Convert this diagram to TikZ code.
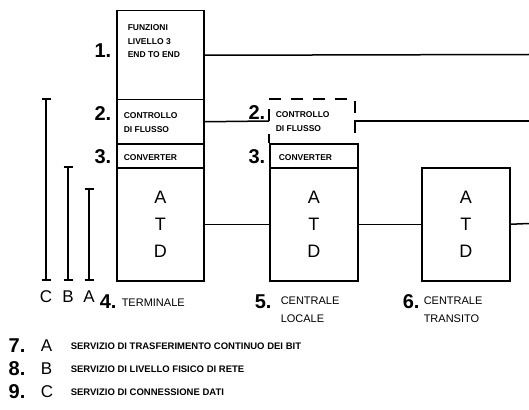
\documentclass[tikz,border=0pt]{standalone}
\usepackage{fontspec}
\setmainfont{Liberation Sans}
\begin{document}
\begin{tikzpicture}[x=1pt,y=-1pt,line width=1.5pt,
  box/.style={draw,inner sep=0pt,anchor=north west},
  big/.style={font=\bfseries\fontsize{20}{20}\selectfont,inner sep=0pt},
  mid/.style={font=\fontsize{17}{17}\selectfont,inner sep=0pt},
  atd/.style={font=\fontsize{18}{27}\selectfont,align=center,inner sep=0pt},
  small/.style={font=\bfseries\fontsize{8.5}{13.5}\selectfont,align=left,inner sep=0pt,anchor=north west},
  lab/.style={font=\fontsize{11}{18}\selectfont,align=left,inner sep=0pt,anchor=north west},
  legend/.style={font=\bfseries\fontsize{9.5}{9.5}\selectfont,inner sep=0pt,anchor=west},
  dashbox/.style={dash pattern=on 12pt off 10pt}]
\useasboundingbox (0,0) rectangle (529,409);
% terminal
\node[box,minimum width=87,minimum height=89] (t1) at (116,10) {};
\node[box,minimum width=87,minimum height=44] (t2) at (116,99) {};
\node[box,minimum width=87,minimum height=24] (t3) at (116,143) {};
\node[box,minimum width=87,minimum height=113] (t4) at (116,167) {};
\node[small] (t1txt) at (127,24) {FUNZIONI\\LIVELLO 3\\END TO END};
\node[small] (t2txt) at (123,112) {CONTROLLO\\DI FLUSSO};
\node[small] (t3txt) at (123,154) {CONVERTER};
\node[atd] (t4txt) at (t4.center) {A\\T\\D};
% centrale locale
\node[box,minimum width=88,minimum height=24] (l3) at (269,143) {};
\node[box,minimum width=88,minimum height=113] (l4) at (269,167) {};
\node[small] (l2txt) at (275,111) {CONTROLLO\\DI FLUSSO};
\node[small] (l3txt) at (278,154) {CONVERTER};
\node[atd] (l4txt) at (l4.center) {A\\T\\D};
% centrale transito
\node[box,minimum width=88,minimum height=113] (r4) at (421,167) {};
\node[atd] (r4txt) at (r4.center) {A\\T\\D};
% dashed box
\coordinate (d0) at (269,134);
\coordinate (d1) at (269,121);
\coordinate (d2) at (269,99);
\coordinate (d3) at (355,99);
\coordinate (d4) at (355,133);
\coordinate (d5) at (355,121);
\draw[dashbox] (d1) -- (d2) -- (d3) -- (d4);
\draw (d0) -- (l3.north west);
% connectors
\coordinate (e1) at (529,54.5);
\coordinate (e2) at (529,121);
\coordinate (e4) at (529,223.5);
\draw (t1.east) -- (e1);
\draw (t2.east) -- (d1);
\draw (d4) -- (d5) -- (e2);
\draw (t4.east) -- (l4.west);
\draw (l4.east) -- (r4.west);
\draw (r4.east) -- (e4);
% level numbers
\node[big,anchor=east] (n1) at (112,51) {1.};
\node[big,anchor=east] (n2) at (112,114) {2.};
\node[big,anchor=east] (n3) at (112,157) {3.};
\node[big,anchor=east] (m2) at (266,113) {2.};
\node[big,anchor=east] (m3) at (266,157) {3.};
% brackets
\coordinate (cT) at (46,99);  \coordinate (cB) at (46,280);
\coordinate (bT) at (68,167); \coordinate (bB) at (68,280);
\coordinate (aT) at (89,189); \coordinate (aB) at (89,280);
\foreach \p/\q in {cT/cB,bT/bB,aT/aB}{
  \draw (\p) -- (\q);
  \draw (\p) ++(-4.5,0) -- ++(9,0);
  \draw (\q) ++(-4.5,0) -- ++(9,0);
}
\node[mid] (lc) at (46,297) {C};
\node[mid] (lb) at (68,297) {B};
\node[mid] (la) at (89,297) {A};
% station labels
\node[big,anchor=west] (n4) at (99,302) {4.};
\node[lab] (n4t) at (121,298) {TERMINALE};
\node[big,anchor=west] (n5) at (254,302) {5.};
\node[lab] (n5t) at (280,296) {CENTRALE\\LOCALE};
\node[big,anchor=west] (n6) at (402,302) {6.};
\node[lab] (n6t) at (423,296) {CENTRALE\\TRANSITO};
% legend
\node[big,anchor=west] (g7) at (8,346) {7.};
\node[mid,anchor=west] (g7l) at (40,346) {A};
\node[legend] (g7t) at (70,346) {SERVIZIO DI TRASFERIMENTO CONTINUO DEI BIT};
\node[big,anchor=west] (g8) at (8,369) {8.};
\node[mid,anchor=west] (g8l) at (40,369) {B};
\node[legend] (g8t) at (70,369) {SERVIZIO DI LIVELLO FISICO DI RETE};
\node[big,anchor=west] (g9) at (8,392) {9.};
\node[mid,anchor=west] (g9l) at (40,392) {C};
\node[legend] (g9t) at (70,392) {SERVIZIO DI CONNESSIONE DATI};
\end{tikzpicture}
\end{document}
